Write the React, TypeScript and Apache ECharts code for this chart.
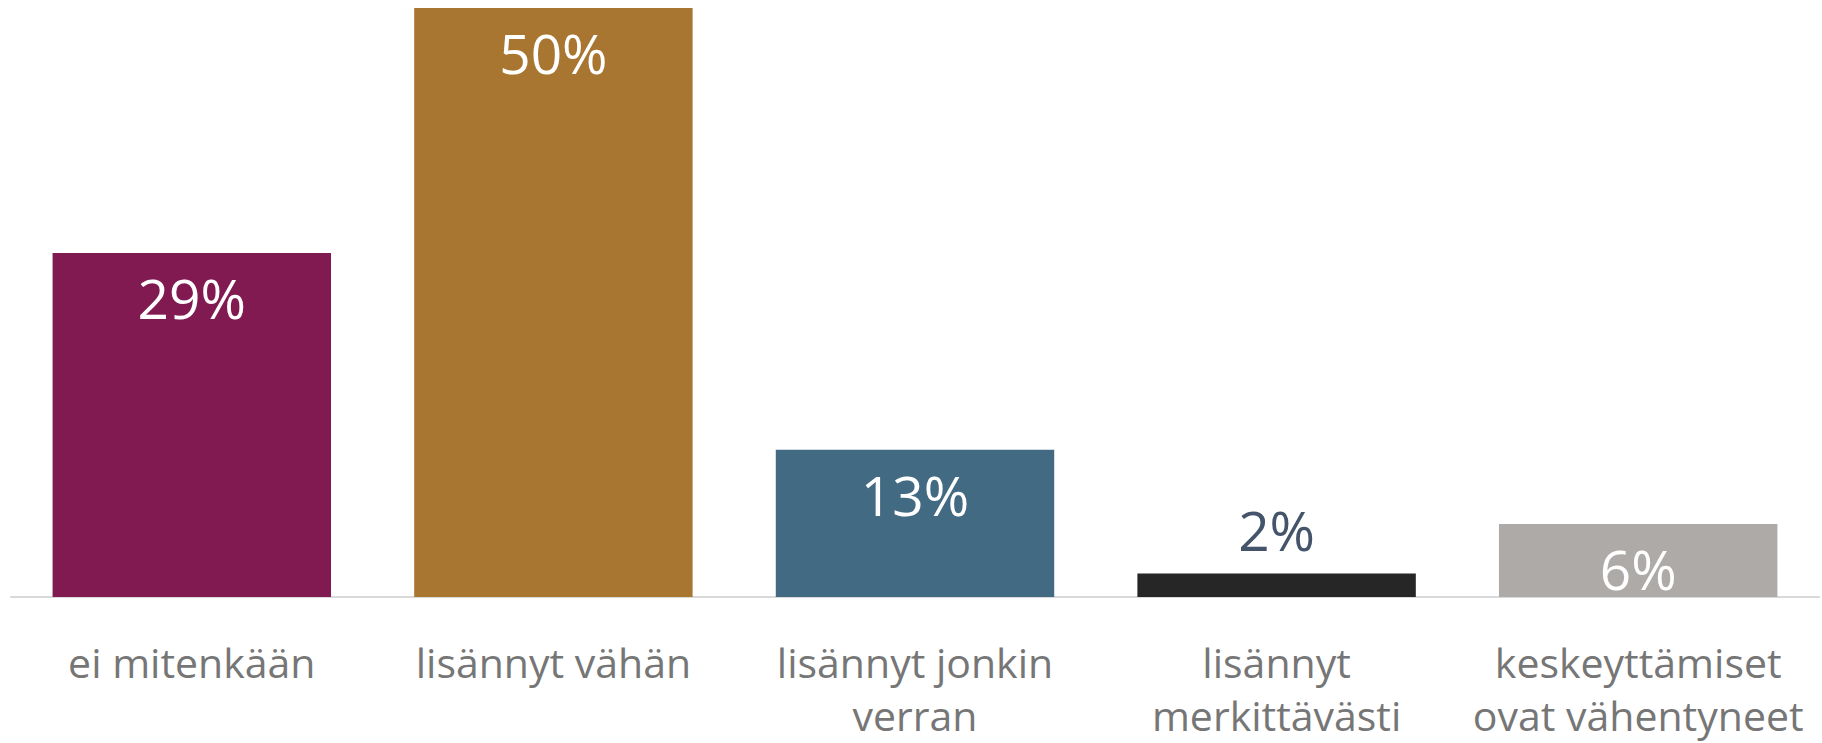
import React, { useEffect, useRef } from "react";
import * as echarts from "echarts";

const categories = [
  "ei mitenkään",
  "lisännyt vähän",
  "lisännyt jonkin\nverran",
  "lisännyt\nmerkittävästi",
  "keskeyttämiset\novat vähentyneet",
];
const values = [29.2, 50, 12.5, 2, 6.2];
const barColors = ["#801A50", "#A97632", "#426A82", "#262626", "#ADAAA8"];
const labelOutside = [false, false, false, true, false];

export default function App() {
  const ref = useRef<HTMLDivElement>(null);
  useEffect(() => {
    if (!ref.current) return;
    const chart = echarts.init(ref.current, null, { renderer: "svg" });
    const font = "'Open Sans', sans-serif";
    chart.setOption({
      animation: false,
      grid: { left: 11, right: 3, top: 8, bottom: 146, containLabel: false },
      xAxis: {
        type: "category",
        data: categories,
        axisLine: { show: true, lineStyle: { color: "#D9D9D9", width: 2 } },
        axisTick: { show: false },
        axisLabel: {
          interval: 0,
          margin: 38,
          color: "#767676",
          fontSize: 41,
          lineHeight: 53,
          fontFamily: font,
        },
      },
      yAxis: {
        type: "value",
        min: 0,
        max: 50,
        show: false,
        splitLine: { show: false },
      },
      series: [
        {
          type: "bar",
          barCategoryGap: "23%",
          data: values.map((v, i) => ({
            value: v,
            itemStyle: { color: barColors[i] },
            label: labelOutside[i]
              ? { position: "top", distance: 16, color: "#44546A" }
              : { position: "insideTop", distance: 17, color: "#FFFFFF" },
          })),
          label: {
            show: true,
            formatter: (p: any) => Math.round(p.value) + "%",
            fontSize: 55,
            fontFamily: font,
          },
        },
      ],
    });
    return () => chart.dispose();
  }, []);
  return (
    <div
      ref={ref}
      style={{ position: "absolute", left: 0, top: 0, width: 1822, height: 743 }}
    />
  );
}
